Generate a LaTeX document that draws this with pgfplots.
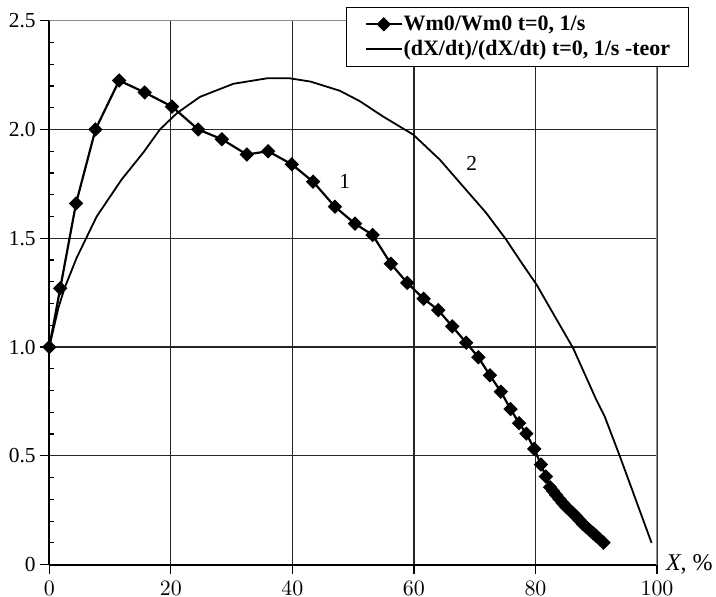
\documentclass[border=0pt]{standalone}
\usepackage{fontspec}
\setmainfont{Liberation Serif}
\usepackage{pgfplots}
\pgfplotsset{compat=1.18}

\begin{document}
\begin{tikzpicture}
\begin{axis}[
    scale only axis,
    width=303.9pt, height=272pt,
    xmin=0, xmax=100, ymin=0, ymax=2.5,
    axis x line=bottom, axis y line=left,
    axis line style={-, line width=0.9pt},
    xtick={0,20,40,60,80,100},
    ytick={0,0.5,1,1.5,2,2.5},
    yticklabels={0,0.5,1.0,1.5,2.0,2.5},
    minor y tick num=4,
    tick align=outside,
    major tick length=4.8pt,
    minor tick length=-2.3pt,
    tick style={black, line width=0.6pt},
    grid=major,
    major grid style={black!85, line width=0.6pt},
    tick label style={font=\fontsize{10.7}{12}\selectfont},
    yticklabel style={xshift=1.5pt},
    xlabel={\textit{X}, \%},
    x label style={at={(axis description cs:1,0)}, anchor=west, xshift=1pt, font=\fontsize{12}{14}\selectfont},
    legend style={at={(1.053,1.0246)}, anchor=north east, draw=black, fill=white,
        font=\bfseries\fontsize{11}{13}\selectfont, cells={anchor=west},
        inner xsep=9pt, inner ysep=2.2pt, row sep=0pt,
        nodes={inner xsep=0.3pt, inner ysep=1.7pt}},
    legend image code/.code={\draw[mark repeat=2, mark phase=2, #1] plot coordinates {(0pt,0pt) (9pt,0pt) (18pt,0pt)};},
]
% 1 - measured
\addplot[black, line width=1.1pt, mark=square*, mark size=2pt, mark options={rotate=45, solid, fill=black}] coordinates {
    (0,1.0) (1.8,1.27) (4.4,1.66) (7.6,2.0) (11.5,2.225) (15.7,2.17) (20.2,2.105)
    (24.5,2.0) (28.4,1.955) (32.5,1.885) (36.0,1.9) (39.9,1.84) (43.4,1.76)
    (47.0,1.645) (50.3,1.567) (53.2,1.515) (56.2,1.383) (58.9,1.295) (61.6,1.222)
    (64.0,1.17) (66.3,1.095) (68.6,1.02) (70.6,0.953) (72.5,0.87) (74.3,0.795)
    (75.9,0.715) (77.3,0.65) (78.5,0.602) (79.8,0.532) (80.9,0.46) (81.7,0.405)
    (82.4,0.356) (82.9,0.338) (83.4,0.32) (83.95,0.301) (84.5,0.282) (85.05,0.266)
    (85.6,0.251) (86.15,0.236) (86.7,0.221) (87.25,0.204) (87.8,0.187) (88.35,0.173)
    (88.9,0.159) (89.45,0.145) (90.0,0.132) (90.6,0.116) (91.2,0.101)
};
\addlegendentry{Wm0/Wm0 t=0, 1/s}
% 2 - theory
\addplot[black, line width=0.9pt] coordinates {
    (0,1.0) (1.5,1.18) (2.5,1.27) (4.5,1.41) (7.8,1.60) (11.9,1.77) (15.5,1.895)
    (18.2,2.0) (21,2.075) (24.8,2.15) (30.3,2.21) (35.8,2.235) (39.6,2.235)
    (43,2.22) (47.8,2.178) (51.1,2.13) (54.9,2.06) (59.9,1.976) (64.3,1.86)
    (68.1,1.738) (71.9,1.616) (75.2,1.493) (77.4,1.40) (80.2,1.286) (83.2,1.14)
    (86.2,0.995) (90.0,0.758) (91.4,0.68) (93.9,0.497) (99.1,0.10)
};
\addlegendentry{(dX/dt)/(dX/dt) t=0, 1/s -teor}
\draw[black!45, line width=0.6pt] (rel axis cs:0,1) -- (rel axis cs:1,1) -- (rel axis cs:1,0);
\node[font=\fontsize{10.7}{12}\selectfont] at (axis cs:48.6,1.76) {1};
\node[font=\fontsize{10.7}{12}\selectfont] at (axis cs:69.5,1.845) {2};
\end{axis}
\pgfresetboundingbox
\useasboundingbox ([xshift=-24.65pt,yshift=-16.15pt]current axis.south west)
    rectangle ([xshift=29.5pt,yshift=10.35pt]current axis.north east);
\end{tikzpicture}
\end{document}
